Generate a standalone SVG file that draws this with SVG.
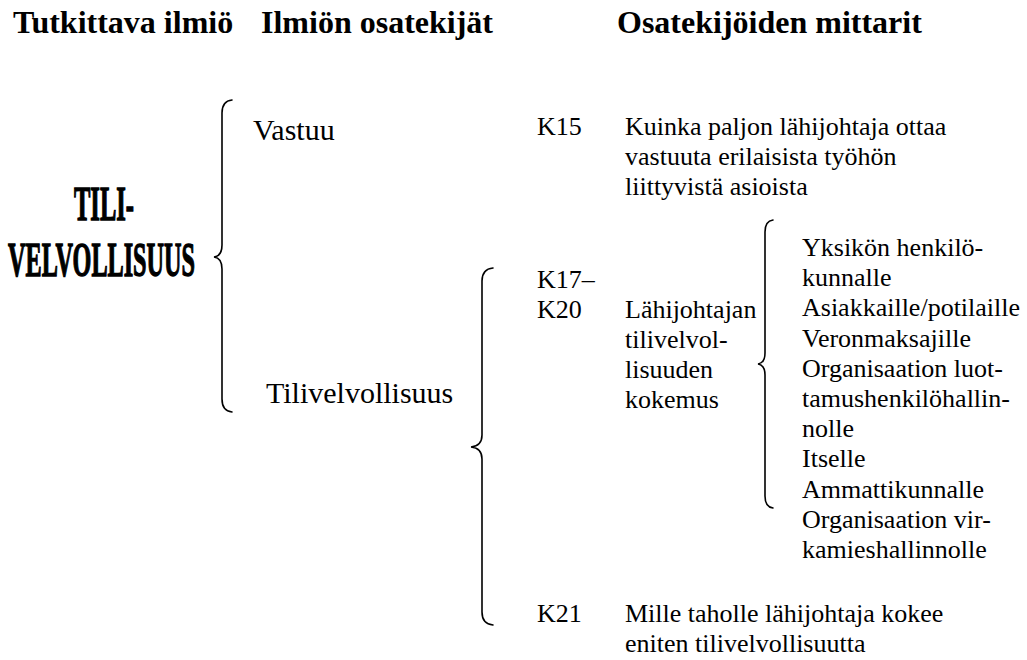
<svg xmlns="http://www.w3.org/2000/svg" width="1027" height="660" viewBox="0 0 1027 660">
<style>
text{font-family:'Liberation Serif','DejaVu Serif',serif;fill:#000}
.h{font-weight:bold;font-size:32px}
.m{font-weight:normal;font-size:30px}
.r{font-weight:normal;font-size:26px}
.big{font-weight:bold;font-size:49px;stroke:#000;stroke-width:1.4}
.brace{fill:none;stroke:#000;stroke-width:1.6;stroke-linecap:round}
</style>
<rect width="1027" height="660" fill="#fff"/>
<g id="headers">
<text class="h" x="13" y="33">Tutkittava ilmiö</text>
<text class="h" x="261" y="33">Ilmiön osatekijät</text>
<text class="h" x="617" y="33">Osatekijöiden mittarit</text>
</g>
<g id="node-tilivelvollisuus-main">
<text class="big" x="74" y="220" textLength="60" lengthAdjust="spacingAndGlyphs">TILI-</text>
<text class="big" x="8" y="276" textLength="187" lengthAdjust="spacingAndGlyphs">VELVOLLISUUS</text>
</g>
<g id="connectors">
<path class="brace" d="M232,100 Q222,101 222,113 L222,245 Q222,256 214,257 Q222,258 222,269 L222,399 Q222,411 232,412"/>
<path class="brace" d="M493,268 Q482,269 482,281 L482,435 Q482,446 471,447 Q482,448 482,459 L482,612 Q482,624 493,625"/>
<path class="brace" d="M773,220 Q765,221 765,232 L765,353 Q765,363 758,364 Q765,365 765,375 L765,496 Q765,507 773,508"/>
</g>
<g id="node-vastuu">
<text class="m" x="253" y="140">Vastuu</text>
</g>
<g id="node-tilivelvollisuus">
<text class="m" x="266" y="403">Tilivelvollisuus</text>
</g>
<g id="node-k15">
<text class="r" x="537" y="135">K15</text>
<text class="r" x="625" y="135">Kuinka paljon lähijohtaja ottaa</text>
<text class="r" x="625" y="165">vastuuta erilaisista työhön</text>
<text class="r" x="625" y="195">liittyvistä asioista</text>
</g>
<g id="node-k17-k20">
<text class="r" x="537" y="288">K17–</text>
<text class="r" x="537" y="318">K20</text>
<text class="r" x="625" y="318">Lähijohtajan</text>
<text class="r" x="625" y="348">tilivelvol-</text>
<text class="r" x="625" y="378">lisuuden</text>
<text class="r" x="625" y="408">kokemus</text>
</g>
<g id="node-tahot">
<text class="r" x="802" y="256">Yksikön henkilö-</text>
<text class="r" x="802" y="286">kunnalle</text>
<text class="r" x="802" y="316">Asiakkaille/potilaille</text>
<text class="r" x="802" y="347">Veronmaksajille</text>
<text class="r" x="802" y="377">Organisaation luot-</text>
<text class="r" x="802" y="407">tamushenkilöhallin-</text>
<text class="r" x="802" y="437">nolle</text>
<text class="r" x="802" y="467">Itselle</text>
<text class="r" x="802" y="498">Ammattikunnalle</text>
<text class="r" x="802" y="528">Organisaation vir-</text>
<text class="r" x="802" y="558">kamieshallinnolle</text>
</g>
<g id="node-k21">
<text class="r" x="537" y="622">K21</text>
<text class="r" x="625" y="622">Mille taholle lähijohtaja kokee</text>
<text class="r" x="625" y="652">eniten tilivelvollisuutta</text>
</g>
</svg>
